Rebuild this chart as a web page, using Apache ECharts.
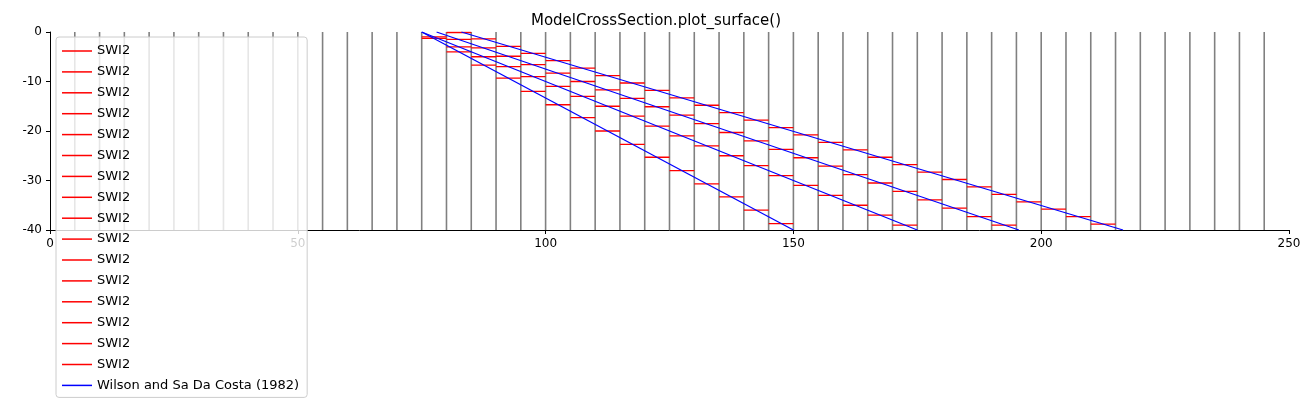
<!DOCTYPE html><html><head><meta charset="utf-8">
<script src="https://cdn.jsdelivr.net/npm/echarts@6/dist/echarts.min.js"></script>
<style>html,body{margin:0;padding:0;background:#fff}#c{width:1312px;height:409px}</style></head><body><div id="c"></div>
<script>
const cellLines=[5,10,15,20,25,30,35,40,45,50,55,60,65,70,75,80,85,90,95,100,105,110,115,120,125,130,135,140,145,150,155,160,165,170,175,180,185,190,195,200,205,210,215,220,225,230,235,240,245];
const cellWidth=5;
const z1Start=75, z1=[-1.3,-4.0,-6.7,-9.3,-12.0,-14.7,-17.3,-20.0,-22.7,-25.3,-28.0,-30.7,-33.3,-36.0,-38.7];
const z2Start=75, z2=[-1.0,-3.0,-5.0,-7.0,-9.0,-11.0,-13.0,-15.0,-17.0,-19.0,-21.0,-23.0,-25.0,-27.0,-29.0,-31.0,-33.0,-35.0,-37.0,-39.0];
const z3Start=80, z3=[-1.5,-3.2,-4.9,-6.6,-8.3,-10.0,-11.7,-13.4,-15.1,-16.8,-18.5,-20.3,-22.0,-23.7,-25.4,-27.1,-28.8,-30.5,-32.2,-33.9,-35.6,-37.3,-39.0];
const z4Start=80, z4=[-0.1,-1.4,-2.9,-4.3,-5.8,-7.3,-8.8,-10.3,-11.8,-13.3,-14.8,-16.3,-17.8,-19.3,-20.8,-22.3,-23.8,-25.3,-26.8,-28.3,-29.8,-31.3,-32.8,-34.3,-35.8,-37.3,-38.8];
const analytic=[[[75,0],[150,-40]],[[75,0],[175,-40]],[[78,0],[195.5,-40]],[[83,0],[216.5,-40]]];

function steps(start,vals){const d=[];vals.forEach((v,i)=>{const a=start+i*cellWidth;d.push([a,v],[a+cellWidth,v],'-');});return d;}
const grid=[];cellLines.forEach(x=>{grid.push([x,0],[x,-40],'-');});
const reds=[steps(z1Start,z1),steps(z2Start,z2),steps(z3Start,z3),steps(z4Start,z4)];
const series=[{type:'line',name:'_grid',data:grid,symbol:'none',silent:true,color:'#808080',lineStyle:{color:'#808080',width:1.6},z:1}];
const names=[];
for(let i=0;i<16;i++){const n='SWI2'+'\u200b'.repeat(i);names.push({name:n,icon:'rect'});
 series.push({type:'line',name:n,data:i<4?reds[i]:[],symbol:'none',color:'#ff0000',lineStyle:{color:'#ff0000',width:1.3},z:2});}
const bn='Wilson and Sa Da Costa (1982)';names.push({name:bn,icon:'rect'});
analytic.forEach(a=>series.push({type:'line',name:bn,data:a,symbol:'none',color:'#0000ff',lineStyle:{color:'#0000ff',width:1.3},z:3}));
const ch=echarts.init(document.getElementById('c'));
ch.setOption({animation:false,
 title:{text:'ModelCrossSection.plot_surface()',left:'center',top:9,textStyle:{fontSize:15,fontWeight:'normal',color:'#000',fontFamily:'DejaVu Sans'}},
 grid:{left:50,right:23,top:32,bottom:179},
 xAxis:{type:'value',min:0,max:250,interval:50,axisLine:{onZero:false,lineStyle:{color:'#000'}},axisTick:{length:4,lineStyle:{color:'#000'}},splitLine:{show:false},axisLabel:{color:'#000',fontSize:12,fontFamily:'DejaVu Sans'}},
 yAxis:{type:'value',min:-40,max:0,interval:10,axisLine:{show:true,lineStyle:{color:'#000'}},axisTick:{show:true,length:4,lineStyle:{color:'#000'}},splitLine:{show:false},axisLabel:{color:'#000',fontSize:12,fontFamily:'DejaVu Sans'}},
 legend:{data:names,orient:'vertical',left:56,top:37,height:380,itemWidth:30,itemHeight:1.5,itemGap:6.9,padding:[7,8,5,6],itemStyle:{},
  backgroundColor:'rgba(255,255,255,0.8)',borderColor:'#ccc',borderWidth:1,borderRadius:3,
  textStyle:{fontSize:13,color:'#000',fontFamily:'DejaVu Sans',lineHeight:14}},
 series});
</script></body></html>
